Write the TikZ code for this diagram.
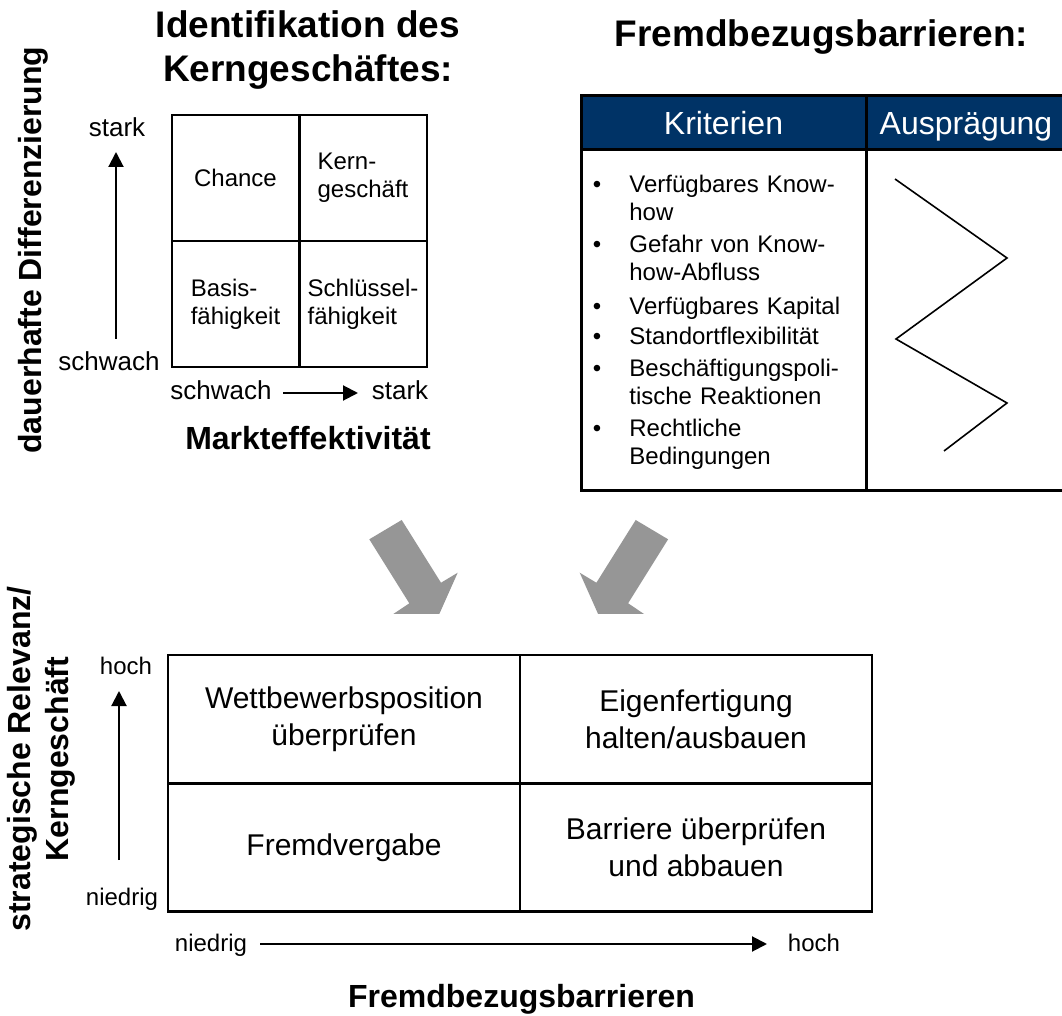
\documentclass[tikz,border=0pt]{standalone}
\usepackage{fontspec}
\setmainfont{Liberation Sans}
\usepackage{tikz}
\usetikzlibrary{arrows.meta, positioning}

\definecolor{kopfblau}{RGB}{0,51,102}
\definecolor{pfeilgrau}{RGB}{150,150,150}

\newcommand{\schrift}[2]{\fontsize{#1}{#2}\selectfont}

\begin{document}
\begin{tikzpicture}[x=0.5pt,y=-0.5pt,>={Triangle[length=7.5pt,width=7.5pt]},
		titel/.style={font=\schrift{18.5}{22}\bfseries, align=center, inner sep=0pt},
		achstitel/.style={font=\schrift{16}{19}\bfseries, align=center, inner sep=0pt},
		achslabel/.style={font=\schrift{13}{15}, inner sep=0pt, anchor=base},
		klein/.style={font=\schrift{12}{14}, inner sep=0pt, anchor=base},
		achse/.style={->, line width=1pt},
		feld/.style={draw, line width=1pt, inner sep=0pt, minimum width=63.5pt, minimum height=63pt, font=\schrift{12}{14}, align=left},
		matrixfeld/.style={draw, line width=1.2pt, inner sep=0pt, minimum width=176pt, minimum height=64pt, font=\schrift{15}{18.5}, align=center},
		kopf/.style={draw, line width=1.5pt, fill=kopfblau, text=white, minimum height=27pt, inner sep=0pt, text height=15pt, text depth=3pt, font=\schrift{16}{19}},
		spalte/.style={draw, line width=1.5pt, minimum height=170.5pt, inner sep=0pt},
		aufzpunkt/.style={font=\schrift{12}{14}, inner sep=0pt, anchor=base},
		aufztext/.style={font=\schrift{12}{14}, inner sep=0pt, anchor=base west, text width=120pt, align=left}]

	\useasboundingbox (0,0) rectangle (1062,1016);

	\node (titelKern) [titel] at (308,50) {Identifikation des\\Kerngeschäftes:};
	\node (titelBarr) [titel, anchor=base] at (821.5,47) {Fremdbezugsbarrieren:};

	\node (chance) [feld] at (235.5,178) {Chance};
	\node (kern) [feld] at (363,178) {Kern-\\geschäft};
	\node (basis) [feld] at (235.5,304.5) {Basis-\\fähigkeit};
	\node (schluessel) [feld] at (363,304.5) {Schlüssel-\\fähigkeit};

	\coordinate (diffUnten) at (116,339);
	\coordinate (diffOben) at (116,152);
	\draw [achse] (diffUnten) -- (diffOben);
	\node (diffStark) [achslabel] at (117,137) {stark};
	\node (diffSchwach) [achslabel] at (109,371) {schwach};

	\coordinate (marktLinks) at (283,393);
	\coordinate (marktRechts) at (358,393);
	\draw [achse] (marktLinks) -- (marktRechts);
	\node (marktSchwach) [achslabel] at (221,400) {schwach};
	\node (marktStark) [achslabel] at (400,400) {stark};

	\node (markt) [achstitel, anchor=base] at (308,450) {Markteffektivität};
	\node (diff) [achstitel, rotate=90] at (33,250) {dauerhafte Differenzierung};

	\node (kriterienKopf) [kopf, minimum width=142.5pt] at (723.5,123) {Kriterien};
	\node (auspraegungKopf) [kopf, minimum width=100pt] at (966,123) {Ausprägung};
	\node (kriterien) [spalte, minimum width=142.5pt] at (723.5,320.5) {};
	\node (auspraegung) [spalte, minimum width=100pt] at (966,320.5) {};

	\foreach \y/\eintrag in {193/{Verfügbares Know-\\how}, 253/{Gefahr von Know-\\how-Abfluss},
			315/{Verfügbares Kapital}, 345/{Standortflexibilität},
			377/{Beschäftigungspoli-\\tische Reaktionen}, 437/{Rechtliche\\Bedingungen}} {
		\node (punkt\y) [aufzpunkt] at (597,\y) {•};
		\node (krit\y) [aufztext] at (629,\y) {\eintrag};
	}

	\draw [line width=0.8pt] (895,179) -- (1007,258) -- (896,339) -- (1007,403) -- (944,451);

	\foreach \s in {1,-1} {
		\begin{scope}[shift={(518.7,0)}, xscale=\s]
			\fill [pfeilgrau] (-149.4,539.3) -- (-117,520) -- (-77.7,582.7) -- (-61,572.7)
				-- (-79.4,614) -- (-125.4,614) -- (-109.4,603.3) -- cycle;
		\end{scope}
	}

	\node (wettbewerb) [matrixfeld] at (344,719) {Wettbewerbsposition\\überprüfen};
	\node (eigen) [matrixfeld] at (696,719) {Eigenfertigung\\halten/ausbauen};
	\node (fremd) [matrixfeld] at (344,847.5) {Fremdvergabe};
	\node (barriere) [matrixfeld] at (696,847.5) {Barriere überprüfen\\und abbauen};

	\coordinate (relUnten) at (119,860);
	\coordinate (relOben) at (119,691);
	\draw [achse] (relUnten) -- (relOben);
	\node (relHoch) [klein] at (126,675) {hoch};
	\node (relNiedrig) [klein] at (122,905) {niedrig};

	\node (barrNiedrig) [klein] at (211,951) {niedrig};
	\node (barrHoch) [klein] at (814,951) {hoch};
	\coordinate (barrLinks) at (260,944);
	\coordinate (barrRechts) at (767,944);
	\draw [achse] (barrLinks) -- (barrRechts);

	\node (barr) [achstitel, anchor=base] at (521.5,1007) {Fremdbezugsbarrieren};
	\node (relevanz) [achstitel, rotate=90] at (41,759) {strategische Relevanz/\\Kerngeschäft};

\end{tikzpicture}
\end{document}
